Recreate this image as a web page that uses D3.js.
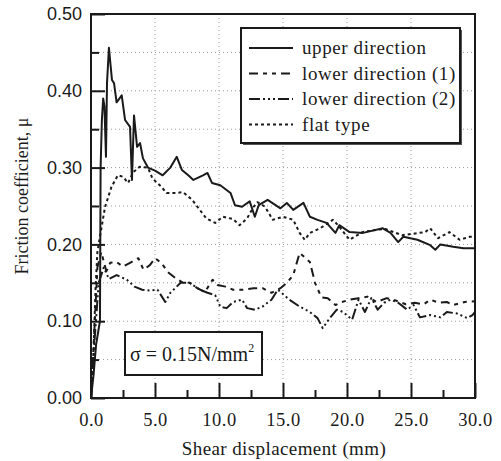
<!DOCTYPE html>
<html>
<head>
<meta charset="utf-8">
<script src="https://cdn.jsdelivr.net/npm/d3@7"></script>
<style>
  body { margin: 0; background: #fff; }
  svg { display: block; }
</style>
</head>
<body>
<div id="chart"></div>
<script>
// Friction coefficient vs shear displacement
const upperDirection = [
  [0, 0], [0.2, 0.03], [0.4, 0.07], [0.7, 0.1], [0.75, 0.3], [0.85, 0.362], [0.95, 0.39],
  [1.05, 0.38], [1.17, 0.314], [1.25, 0.41], [1.4, 0.456], [1.64, 0.414], [1.8, 0.41],
  [2.0, 0.385], [2.4, 0.394], [2.66, 0.362], [3.05, 0.353], [3.2, 0.284], [3.36, 0.368],
  [3.6, 0.327], [3.83, 0.332], [4.06, 0.312], [4.45, 0.3], [5.0, 0.296], [5.6, 0.29],
  [6.2, 0.3], [6.7, 0.314], [7.1, 0.297], [7.6, 0.29], [8.0, 0.284], [8.75, 0.29],
  [9.1, 0.293], [9.45, 0.28], [10.1, 0.277], [10.9, 0.267], [11.25, 0.251], [11.8, 0.249],
  [12.4, 0.256], [12.8, 0.236], [13.1, 0.251], [13.8, 0.258], [14.8, 0.247], [15.3, 0.254],
  [15.8, 0.245], [16.6, 0.254], [17.1, 0.236], [17.7, 0.232], [18.4, 0.228], [19.1, 0.215],
  [19.4, 0.225], [20.2, 0.216], [21.25, 0.215], [22.8, 0.221], [23.4, 0.215], [24.0, 0.203],
  [24.4, 0.21], [25.5, 0.206], [26.5, 0.199], [26.9, 0.193], [27.3, 0.2], [28.3, 0.197],
  [29.1, 0.195], [30, 0.195]
];

const lowerDirection1 = [
  [0, 0], [0.3, 0.1], [0.5, 0.17], [0.8, 0.19], [1.2, 0.165], [1.5, 0.176], [2.0, 0.177],
  [2.5, 0.171], [3.05, 0.176], [3.7, 0.182], [4.1, 0.167], [4.6, 0.173], [5.0, 0.182],
  [5.5, 0.176], [6.0, 0.164], [6.6, 0.156], [7.1, 0.151], [7.7, 0.15], [8.3, 0.143],
  [8.9, 0.138], [9.5, 0.154], [9.9, 0.147], [10.5, 0.145], [11.1, 0.141], [11.9, 0.141],
  [12.7, 0.143], [13.4, 0.143], [14.1, 0.137], [14.8, 0.143], [15.3, 0.15], [15.8, 0.16],
  [16.3, 0.189], [17.1, 0.177], [17.5, 0.15], [18.0, 0.131], [18.5, 0.13], [19.1, 0.121],
  [19.6, 0.125], [20.2, 0.128], [20.9, 0.13], [21.6, 0.132], [22.3, 0.125], [23.1, 0.13],
  [23.8, 0.127], [24.6, 0.122], [25.3, 0.124], [26.0, 0.122], [26.5, 0.128], [27.2, 0.124],
  [27.8, 0.125], [28.3, 0.121], [29.2, 0.125], [30, 0.126]
];

const lowerDirection2 = [
  [0, 0], [0.3, 0.08], [0.6, 0.15], [1.0, 0.17], [1.4, 0.155], [2.0, 0.16], [2.8, 0.154],
  [3.4, 0.145], [4.0, 0.141], [4.6, 0.14], [5.2, 0.141], [5.8, 0.125], [6.2, 0.137],
  [7.0, 0.15], [7.7, 0.15], [8.5, 0.141], [9.1, 0.137], [9.7, 0.134], [10.1, 0.119],
  [10.6, 0.117], [11.1, 0.125], [11.8, 0.128], [12.2, 0.117], [12.8, 0.115], [13.4, 0.119],
  [14.1, 0.128], [14.6, 0.141], [15.5, 0.128], [16.3, 0.119], [17.1, 0.112], [17.7, 0.104],
  [18.1, 0.091], [18.7, 0.105], [19.2, 0.115], [19.7, 0.112], [20.4, 0.102], [20.9, 0.128],
  [21.4, 0.112], [21.9, 0.13], [22.4, 0.115], [22.9, 0.124], [23.4, 0.128], [24.0, 0.124],
  [24.7, 0.115], [25.2, 0.121], [25.7, 0.105], [26.5, 0.108], [27.3, 0.105], [27.8, 0.112],
  [28.6, 0.11], [29.4, 0.104], [29.8, 0.108], [30, 0.112]
];

const flatType = [
  [0, 0], [0.2, 0.06], [0.35, 0.14], [0.5, 0.19], [0.7, 0.21], [1.1, 0.249], [1.6, 0.275],
  [2.1, 0.29], [2.5, 0.288], [2.9, 0.28], [3.3, 0.294], [3.8, 0.301], [4.45, 0.3],
  [4.8, 0.286], [5.5, 0.275], [5.9, 0.267], [6.6, 0.267], [7.2, 0.268], [7.9, 0.258],
  [8.5, 0.245], [9.0, 0.234], [9.7, 0.228], [10.3, 0.236], [11.1, 0.233], [11.6, 0.225],
  [12.2, 0.234], [12.7, 0.249], [13.0, 0.255], [13.6, 0.249], [14.2, 0.232], [15.0, 0.236],
  [15.8, 0.232], [16.3, 0.215], [16.7, 0.206], [17.1, 0.215], [17.9, 0.221], [18.9, 0.232],
  [19.3, 0.225], [20.2, 0.206], [21.2, 0.216], [22.3, 0.219], [23.0, 0.22], [24.3, 0.212],
  [25.2, 0.214], [26.1, 0.216], [26.5, 0.221], [27.1, 0.208], [28.0, 0.216], [28.8, 0.206],
  [29.6, 0.21], [30, 0.21]
];

const seriesNames = ['upper direction', 'lower direction (1)', 'lower direction (2)', 'flat type'];
const xTicks = [0, 5, 10, 15, 20, 25, 30];
const yTicks = [0, 0.1, 0.2, 0.3, 0.4, 0.5];

const width = 501, height = 461;
const margin = { top: 14, right: 26, bottom: 63, left: 91 };
const w = width - margin.left - margin.right;
const h = height - margin.top - margin.bottom;

const svg = d3.select('#chart').append('svg')
  .attr('width', width)
  .attr('height', height);

const g = svg.append('g')
  .attr('transform', `translate(${margin.left},${margin.top})`);

const x = d3.scaleLinear().domain([0, 30]).range([0, w]);
const y = d3.scaleLinear().domain([0, 0.5]).range([h, 0]);

const ink = '#1a1a1a';
const serif = '"Liberation Serif", "Times New Roman", serif';
const sans = '"Liberation Sans", Arial, sans-serif';

// dotted grid
g.append('g').selectAll('line')
  .data(d3.range(0.05, 0.5, 0.05))
  .enter().append('line')
  .attr('x1', 0).attr('x2', w)
  .attr('y1', d => y(d)).attr('y2', d => y(d))
  .attr('stroke', '#999').attr('stroke-width', 1).attr('stroke-dasharray', '1,3');

g.append('g').selectAll('line')
  .data([5, 10, 15, 20, 25])
  .enter().append('line')
  .attr('y1', 0).attr('y2', h)
  .attr('x1', d => x(d)).attr('x2', d => x(d))
  .attr('stroke', '#999').attr('stroke-width', 1).attr('stroke-dasharray', '1,3');

// axes with inward ticks
const xMinor = g.append('g')
  .attr('transform', `translate(0,${h})`)
  .call(d3.axisBottom(x).tickValues(d3.range(2.5, 30, 5)).tickSize(-8).tickFormat(''));
const xMajor = g.append('g')
  .attr('transform', `translate(0,${h})`)
  .call(d3.axisBottom(x).tickValues(xTicks).tickSize(-15).tickPadding(15).tickFormat(d3.format('.1f')));
const yMinor = g.append('g')
  .call(d3.axisLeft(y).tickValues(d3.range(0.05, 0.5, 0.1)).tickSize(-8).tickFormat(''));
const yMajor = g.append('g')
  .call(d3.axisLeft(y).tickValues(yTicks).tickSize(-14).tickPadding(9).tickFormat(d3.format('.2f')));

[xMinor, xMajor, yMinor, yMajor].forEach(a => {
  a.select('.domain').remove();
  a.selectAll('line').attr('stroke', ink).attr('stroke-width', 2);
});
xMajor.selectAll('text').style('font-family', serif).style('font-size', '18.5px')
  .style('letter-spacing', '0.5px').attr('fill', ink);
yMajor.selectAll('text').style('font-family', sans).style('font-size', '18px').attr('fill', ink);

// frame
g.append('rect')
  .attr('width', w).attr('height', h)
  .attr('fill', 'none').attr('stroke', ink).attr('stroke-width', 2);

// curves
const line = d3.line().x(d => x(d[0])).y(d => y(d[1]));
const styles = [
  { data: upperDirection, dash: null },
  { data: lowerDirection1, dash: '9,5,4,5,4,5' },
  { data: lowerDirection2, dash: '11,3,2,3,2,3,2,3' },
  { data: flatType, dash: '3,3' }
];

const plot = g.append('g');
styles.forEach(s => {
  plot.append('path')
    .datum(s.data)
    .attr('d', line)
    .attr('fill', 'none')
    .attr('stroke', ink)
    .attr('stroke-width', 2)
    .attr('stroke-linejoin', 'round')
    .attr('stroke-dasharray', s.dash);
});

// legend
const legend = svg.append('g').attr('transform', 'translate(241,28)');
legend.append('rect')
  .attr('x', 2).attr('y', 2)
  .attr('width', 219).attr('height', 115)
  .attr('fill', '#555');
legend.append('rect')
  .attr('width', 219).attr('height', 115)
  .attr('fill', '#fff').attr('stroke', ink).attr('stroke-width', 2);

seriesNames.forEach((name, i) => {
  const ly = 20 + i * 25.5;
  legend.append('line')
    .attr('x1', 8).attr('x2', 52)
    .attr('y1', ly).attr('y2', ly)
    .attr('stroke', ink).attr('stroke-width', 2)
    .attr('stroke-dasharray', styles[i].dash);
  legend.append('text')
    .attr('x', 61).attr('y', ly + 6)
    .style('font-family', serif).style('font-size', '19px')
    .style('letter-spacing', '0.6px')
    .attr('fill', ink)
    .text(name);
});

// sigma box
const sig = svg.append('g').attr('transform', 'translate(125,332)');
sig.append('rect')
  .attr('width', 137).attr('height', 43)
  .attr('fill', '#fff').attr('stroke', ink).attr('stroke-width', 2);
const sigText = sig.append('text')
  .attr('x', 5).attr('y', 29)
  .style('font-family', serif).style('font-size', '20px')
  .attr('fill', ink);
sigText.append('tspan').text('σ = 0.15N/mm');
sigText.append('tspan').attr('dy', -9).style('font-size', '12px').text('2');

// axis titles
svg.append('text')
  .attr('x', 284).attr('y', 455)
  .attr('text-anchor', 'middle')
  .style('font-family', serif).style('font-size', '19px')
  .style('letter-spacing', '0.4px')
  .attr('fill', ink)
  .text('Shear displacement (mm)');

svg.append('text')
  .attr('transform', 'translate(28,196) rotate(-90)')
  .attr('text-anchor', 'middle')
  .style('font-family', serif).style('font-size', '18px')
  .attr('fill', ink)
  .text('Friction coefficient, μ');
</script>
</body>
</html>
